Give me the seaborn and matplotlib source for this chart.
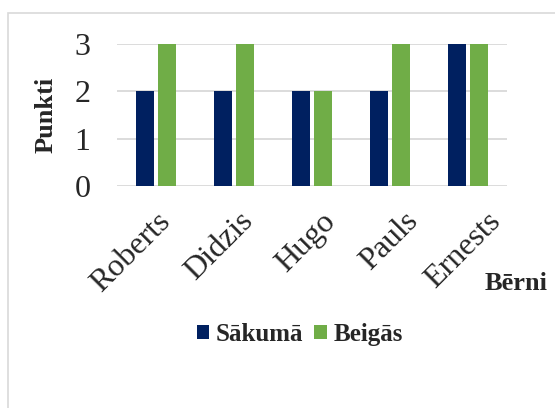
import numpy as np
import pandas as pd
import matplotlib
matplotlib.use("Agg")
import matplotlib.pyplot as plt
import matplotlib.transforms as mtrans
from matplotlib.font_manager import findfont, FontProperties
from matplotlib.patches import Rectangle
import seaborn as sns

children = ["Roberts", "Didzis", "Hugo", "Pauls", "Ernests"]
start_scores = [2, 2, 2, 2, 3]
end_scores = [3, 3, 2, 3, 3]
series_names = ["Sākumā", "Beigās"]
colors = ["#002060", "#70AD47"]

df = pd.DataFrame({
    "child": children * 2,
    "score": start_scores + end_scores,
    "series": [series_names[0]] * len(children) + [series_names[1]] * len(children),
})

sns.set_theme(style="white")
plt.rcParams["font.family"] = ["Liberation Serif", "DejaVu Serif"]
bold = FontProperties(family="Liberation Serif", weight="bold", size=19)

fig = plt.figure(figsize=(5.55, 4.08), dpi=100)
ax = fig.add_axes([117 / 555, 1 - 186 / 408, 390 / 555, 142 / 408])

sns.barplot(data=df, x="child", y="score", hue="series", order=children,
            hue_order=series_names, palette=colors, width=0.564, gap=0.2,
            linewidth=0, saturation=1, ax=ax, legend=True)

ax.set_ylim(0, 3)
ax.set_yticks([0, 1, 2, 3])
ax.set_xlim(-0.5, len(children) - 0.5)
ax.yaxis.grid(True, color="#D9D9D9", linewidth=1.3)
ax.set_axisbelow(True)
for s in ax.spines.values():
    s.set_visible(False)
ax.tick_params(axis="both", length=0, labelsize=23)
ax.tick_params(axis="y", pad=19)
ax.tick_params(axis="x", pad=15)

ax.set_xlabel("")
ax.set_ylabel("Punkti", fontproperties=bold, labelpad=12)

# rotated category labels, shifted right like the original
for i, lab in enumerate(ax.get_xticklabels()):
    lab.set_rotation(45)
    lab.set_ha("right")
    lab.set_va("top")
    dx = (20 + 4.75 * i) / 100
    lab.set_transform(lab.get_transform() + mtrans.ScaledTranslation(dx, 0, fig.dpi_scale_trans))

fig.text(548 / 555, 1 - 290 / 408, "Bērni", fontproperties=bold,
         ha="right", va="baseline")

handles, labels = ax.get_legend_handles_labels()
ax.get_legend().remove()
fig.legend(handles, labels, loc="center", bbox_to_anchor=(0.54, 0.18), ncol=2,
           frameon=False, prop=FontProperties(family="Liberation Serif", weight="bold", size=18),
           handlelength=0.5, handleheight=0.5, handletextpad=0.25,
           columnspacing=0.45)

fig.patches.append(Rectangle((8 / 555, -0.1), 1.2, 1 - 13 / 408 + 0.1,
                             transform=fig.transFigure, fill=False,
                             edgecolor="#D9D9D9", linewidth=1.2))

fig.savefig("out.png", dpi=100)
